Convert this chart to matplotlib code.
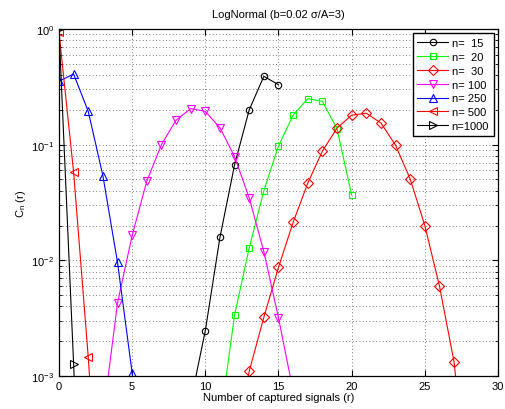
import numpy as np
import matplotlib
matplotlib.use("Agg")
import matplotlib.pyplot as plt
from matplotlib.ticker import LogLocator, FixedLocator, NullFormatter

plt.rcParams['font.family'] = ['Liberation Sans', 'DejaVu Sans']
plt.rcParams['mathtext.fontset'] = 'custom'
plt.rcParams['mathtext.rm'] = 'Liberation Sans'
plt.rcParams['mathtext.it'] = 'Liberation Sans:italic'

# C_n(r), one series per n
r_15 = [8, 9, 10, 11, 12, 13, 14, 15]
c_15 = [1e-4, 6e-4, 0.00247, 0.0158, 0.067, 0.20, 0.39, 0.33]

r_20 = [10, 11, 12, 13, 14, 15, 16, 17, 18, 19, 20]
c_20 = [5e-5, 4e-4, 0.00337, 0.0128, 0.040, 0.0975, 0.18, 0.25, 0.237, 0.137, 0.0367]

r_30 = [12, 13, 14, 15, 16, 17, 18, 19, 20, 21, 22, 23, 24, 25, 26, 27, 28]
c_30 = [2e-4, 0.0011, 0.00322, 0.0087, 0.0213, 0.0464, 0.088, 0.139, 0.18,
        0.187, 0.154, 0.099, 0.0505, 0.020, 0.0060, 0.00132, 8e-5]

r_100 = [3, 4, 5, 6, 7, 8, 9, 10, 11, 12, 13, 14, 15, 16]
c_100 = [4.3e-4, 0.00428, 0.0164, 0.0483, 0.100, 0.163, 0.205, 0.194, 0.140,
         0.0788, 0.0346, 0.0119, 0.00318, 7.4e-4]

r_250 = [0, 1, 2, 3, 4, 5, 6]
c_250 = [0.353, 0.408, 0.194, 0.054, 0.0096, 0.00106, 8e-5]

r_500 = [0, 1, 2, 3]
c_500 = [0.94, 0.0577, 0.00145, 2e-5]

r_1000 = [0, 1, 2]
c_1000 = [0.998, 0.00127, 1e-6]

labels = ['n=  15', 'n=  20', 'n=  30', 'n= 100', 'n= 250', 'n= 500', 'n=1000']
colors = ['#000000', '#00ff00', '#ff0000', '#ff00ff', '#0000ff', '#ff0000', '#000000']
markers = ['o', 's', 'D', 'v', '^', '<', '>']
msizes = [4.6, 4.6, 4.8, 5.8, 5.8, 5.8, 5.8]

series = [(r_15, c_15), (r_20, c_20), (r_30, c_30), (r_100, c_100),
          (r_250, c_250), (r_500, c_500), (r_1000, c_1000)]

fig = plt.figure(figsize=(5.05, 4.10), dpi=100)
ax = fig.add_axes([0.1168, 0.0805, 0.8693, 0.8463])

for (r, c), lab, col, mk, ms in zip(series, labels, colors, markers, msizes):
    ax.plot(r, c, color=col, marker=mk, mfc='none', mec=col, ms=ms,
            lw=0.8, mew=0.8, label=lab)

ax.set_yscale('log')
ax.set_xlim(0, 30)
ax.set_ylim(1e-3, 1)
ax.set_xticks(np.arange(0, 31, 5))
ax.yaxis.set_major_locator(FixedLocator([1e-3, 1e-2, 1e-1, 1]))
ax.yaxis.set_minor_locator(LogLocator(base=10, subs=np.arange(2, 10)))
ax.yaxis.set_minor_formatter(NullFormatter())

ax.grid(True, which='major', axis='both', linestyle=(0, (1, 3)), color='#555555', lw=0.6)
ax.grid(True, which='minor', axis='y', linestyle=(0, (1, 3)), color='#555555', lw=0.6)

ax.tick_params(which='both', direction='in', top=True, right=True, labelsize=8)
ax.tick_params(which='major', length=4)
ax.tick_params(which='minor', length=2)
for sp in ax.spines.values():
    sp.set_linewidth(0.9)

ax.set_xlabel('Number of captured signals (r)', fontsize=8, labelpad=1)
ax.set_ylabel(r'C$_\mathregular{n}$ (r)', fontsize=8, labelpad=2)
ax.set_title('LogNormal (b=0.02 \u03c3/A=3)', fontsize=8, pad=9)

leg = ax.legend(loc='upper right', fontsize=8, fancybox=False, framealpha=1,
                edgecolor='black', handlelength=2.8, borderpad=0.4,
                labelspacing=0.35, handletextpad=0.3, borderaxespad=0.4)
leg.get_frame().set_linewidth(1.0)

plt.savefig('out.png', dpi=100)
